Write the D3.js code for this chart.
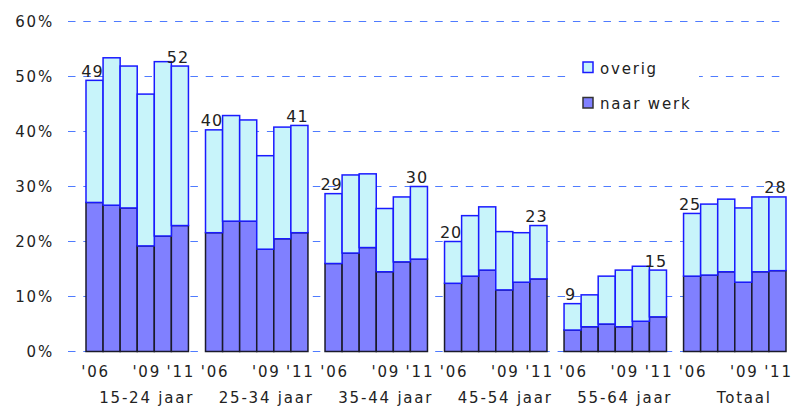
<!DOCTYPE html>
<html><head><meta charset="utf-8">
<script src="https://cdn.jsdelivr.net/npm/d3@7"></script>
<style>
html,body{margin:0;padding:0;background:#fff;}
svg{display:block;font-family:"DejaVu Sans",Verdana,sans-serif;}
text{fill:#222;}
</style></head>
<body>
<svg id="c" width="791" height="407"></svg>
<script>
const groups = ["15-24 jaar","25-34 jaar","35-44 jaar","45-54 jaar","55-64 jaar","Totaal"];
const years = ["'06","'07","'08","'09","'10","'11"];
const yearLabels = ["'06","","","'09","","'11"];
const naarWerk = [
  [27.1,26.6,26.1,19.2,21.0,22.9],
  [21.6,23.7,23.7,18.6,20.5,21.6],
  [16.0,17.9,18.9,14.5,16.3,16.8],
  [12.4,13.7,14.8,11.2,12.6,13.2],
  [3.9,4.5,5.0,4.5,5.5,6.3],
  [13.7,13.9,14.5,12.6,14.5,14.7]
];
const overig = [
  [22.2,26.8,25.8,27.6,31.7,29.0],
  [18.7,19.2,18.4,17.0,20.3,19.5],
  [12.7,14.2,13.4,11.5,11.8,13.2],
  [7.6,11.0,11.5,10.6,9.0,9.7],
  [4.8,5.8,8.7,10.3,10.0,8.5],
  [11.4,12.9,13.2,13.5,13.6,13.4]
];
const yTicks = [0,10,20,30,40,50,60];
const legendItems = ["overig","naar werk"];

const svg = d3.select("#c");
const slotsPerGroup = years.length + 1;
const nSlots = groups.length * slotsPerGroup - 1;
const x = d3.scaleBand().domain(d3.range(nSlots)).range([86, 786]).padding(0);
const y = d3.scaleLinear().domain([0, 60]).range([351.5, 21.5]);

// gridlines
svg.append("g").selectAll("line").data(yTicks).join("line")
  .attr("x1", 68).attr("x2", 784)
  .attr("y1", d => y(d)).attr("y2", d => y(d))
  .attr("stroke", "#4f7bff").attr("stroke-width", 1.2)
  .attr("stroke-dasharray", "7.5,7.8");

// y tick labels
svg.append("g").selectAll("text").data(yTicks).join("text")
  .attr("x", 54).attr("y", d => y(d)).attr("dy", "0.36em")
  .attr("text-anchor", "end").attr("font-size", 15).attr("letter-spacing", "1.8px")
  .text(d => d + "%");

// legend background
svg.append("rect").attr("x", 567).attr("y", 50).attr("width", 132).attr("height", 70).attr("fill", "#fff");

const rows = [];
groups.forEach((g, gi) => years.forEach((yr, i) => {
  rows.push({gi, i, slot: gi * slotsPerGroup + i, nw: naarWerk[gi][i], ov: overig[gi][i]});
}));

const bars = svg.append("g");
bars.selectAll("rect.nw").data(rows).join("rect").attr("class", "nw")
  .attr("x", d => x(d.slot)).attr("width", x.bandwidth())
  .attr("y", d => y(d.nw)).attr("height", d => y(0) - y(d.nw))
  .attr("fill", "#8080ff").attr("stroke", "#1a1a2a").attr("stroke-width", 1.5);
bars.selectAll("rect.ov").data(rows).join("rect").attr("class", "ov")
  .attr("x", d => x(d.slot)).attr("width", x.bandwidth())
  .attr("y", d => y(d.nw + d.ov)).attr("height", d => y(d.nw) - y(d.nw + d.ov))
  .attr("fill", "#c8f4fa").attr("stroke", "#1a1aff").attr("stroke-width", 1.5);

// value labels on first and last bar
svg.append("g").selectAll("text").data(rows.filter(d => d.i === 0 || d.i === years.length - 1)).join("text")
  .attr("x", d => x(d.slot) + x.bandwidth() / 2 - 2)
  .attr("y", d => y(d.nw + d.ov) - 3.5)
  .attr("text-anchor", "middle").attr("font-size", 16).attr("letter-spacing", "1px")
  .text(d => Math.round(d.nw + d.ov));

// year labels
svg.append("g").selectAll("text").data(rows.filter(d => yearLabels[d.i])).join("text")
  .attr("x", d => x(d.slot) + x.bandwidth() / 2 + 1)
  .attr("y", 377)
  .attr("text-anchor", "middle").attr("font-size", 15).attr("letter-spacing", "1.8px")
  .text(d => yearLabels[d.i]);

// group labels
svg.append("g").selectAll("text").data(groups).join("text")
  .attr("x", (d, gi) => x(gi * slotsPerGroup) + x.bandwidth() * slotsPerGroup / 2 + 1)
  .attr("y", 403)
  .attr("text-anchor", "middle").attr("font-size", 15).attr("letter-spacing", "1.8px")
  .text(d => d);

// legend
const leg = svg.append("g");
const legFill = ["#c8f4fa", "#8080ff"], legStroke = ["#1a1aff", "#333"];
legendItems.forEach((t, i) => {
  leg.append("rect").attr("x", 583).attr("y", 62 + i * 35.5).attr("width", 10).attr("height", 10.5)
    .attr("fill", legFill[i]).attr("stroke", legStroke[i]).attr("stroke-width", 1.5);
  leg.append("text").attr("x", 600).attr("y", 73.5 + i * 35).attr("font-size", 15)
    .attr("letter-spacing", "1.8px").text(t);
});
</script>
</body></html>
